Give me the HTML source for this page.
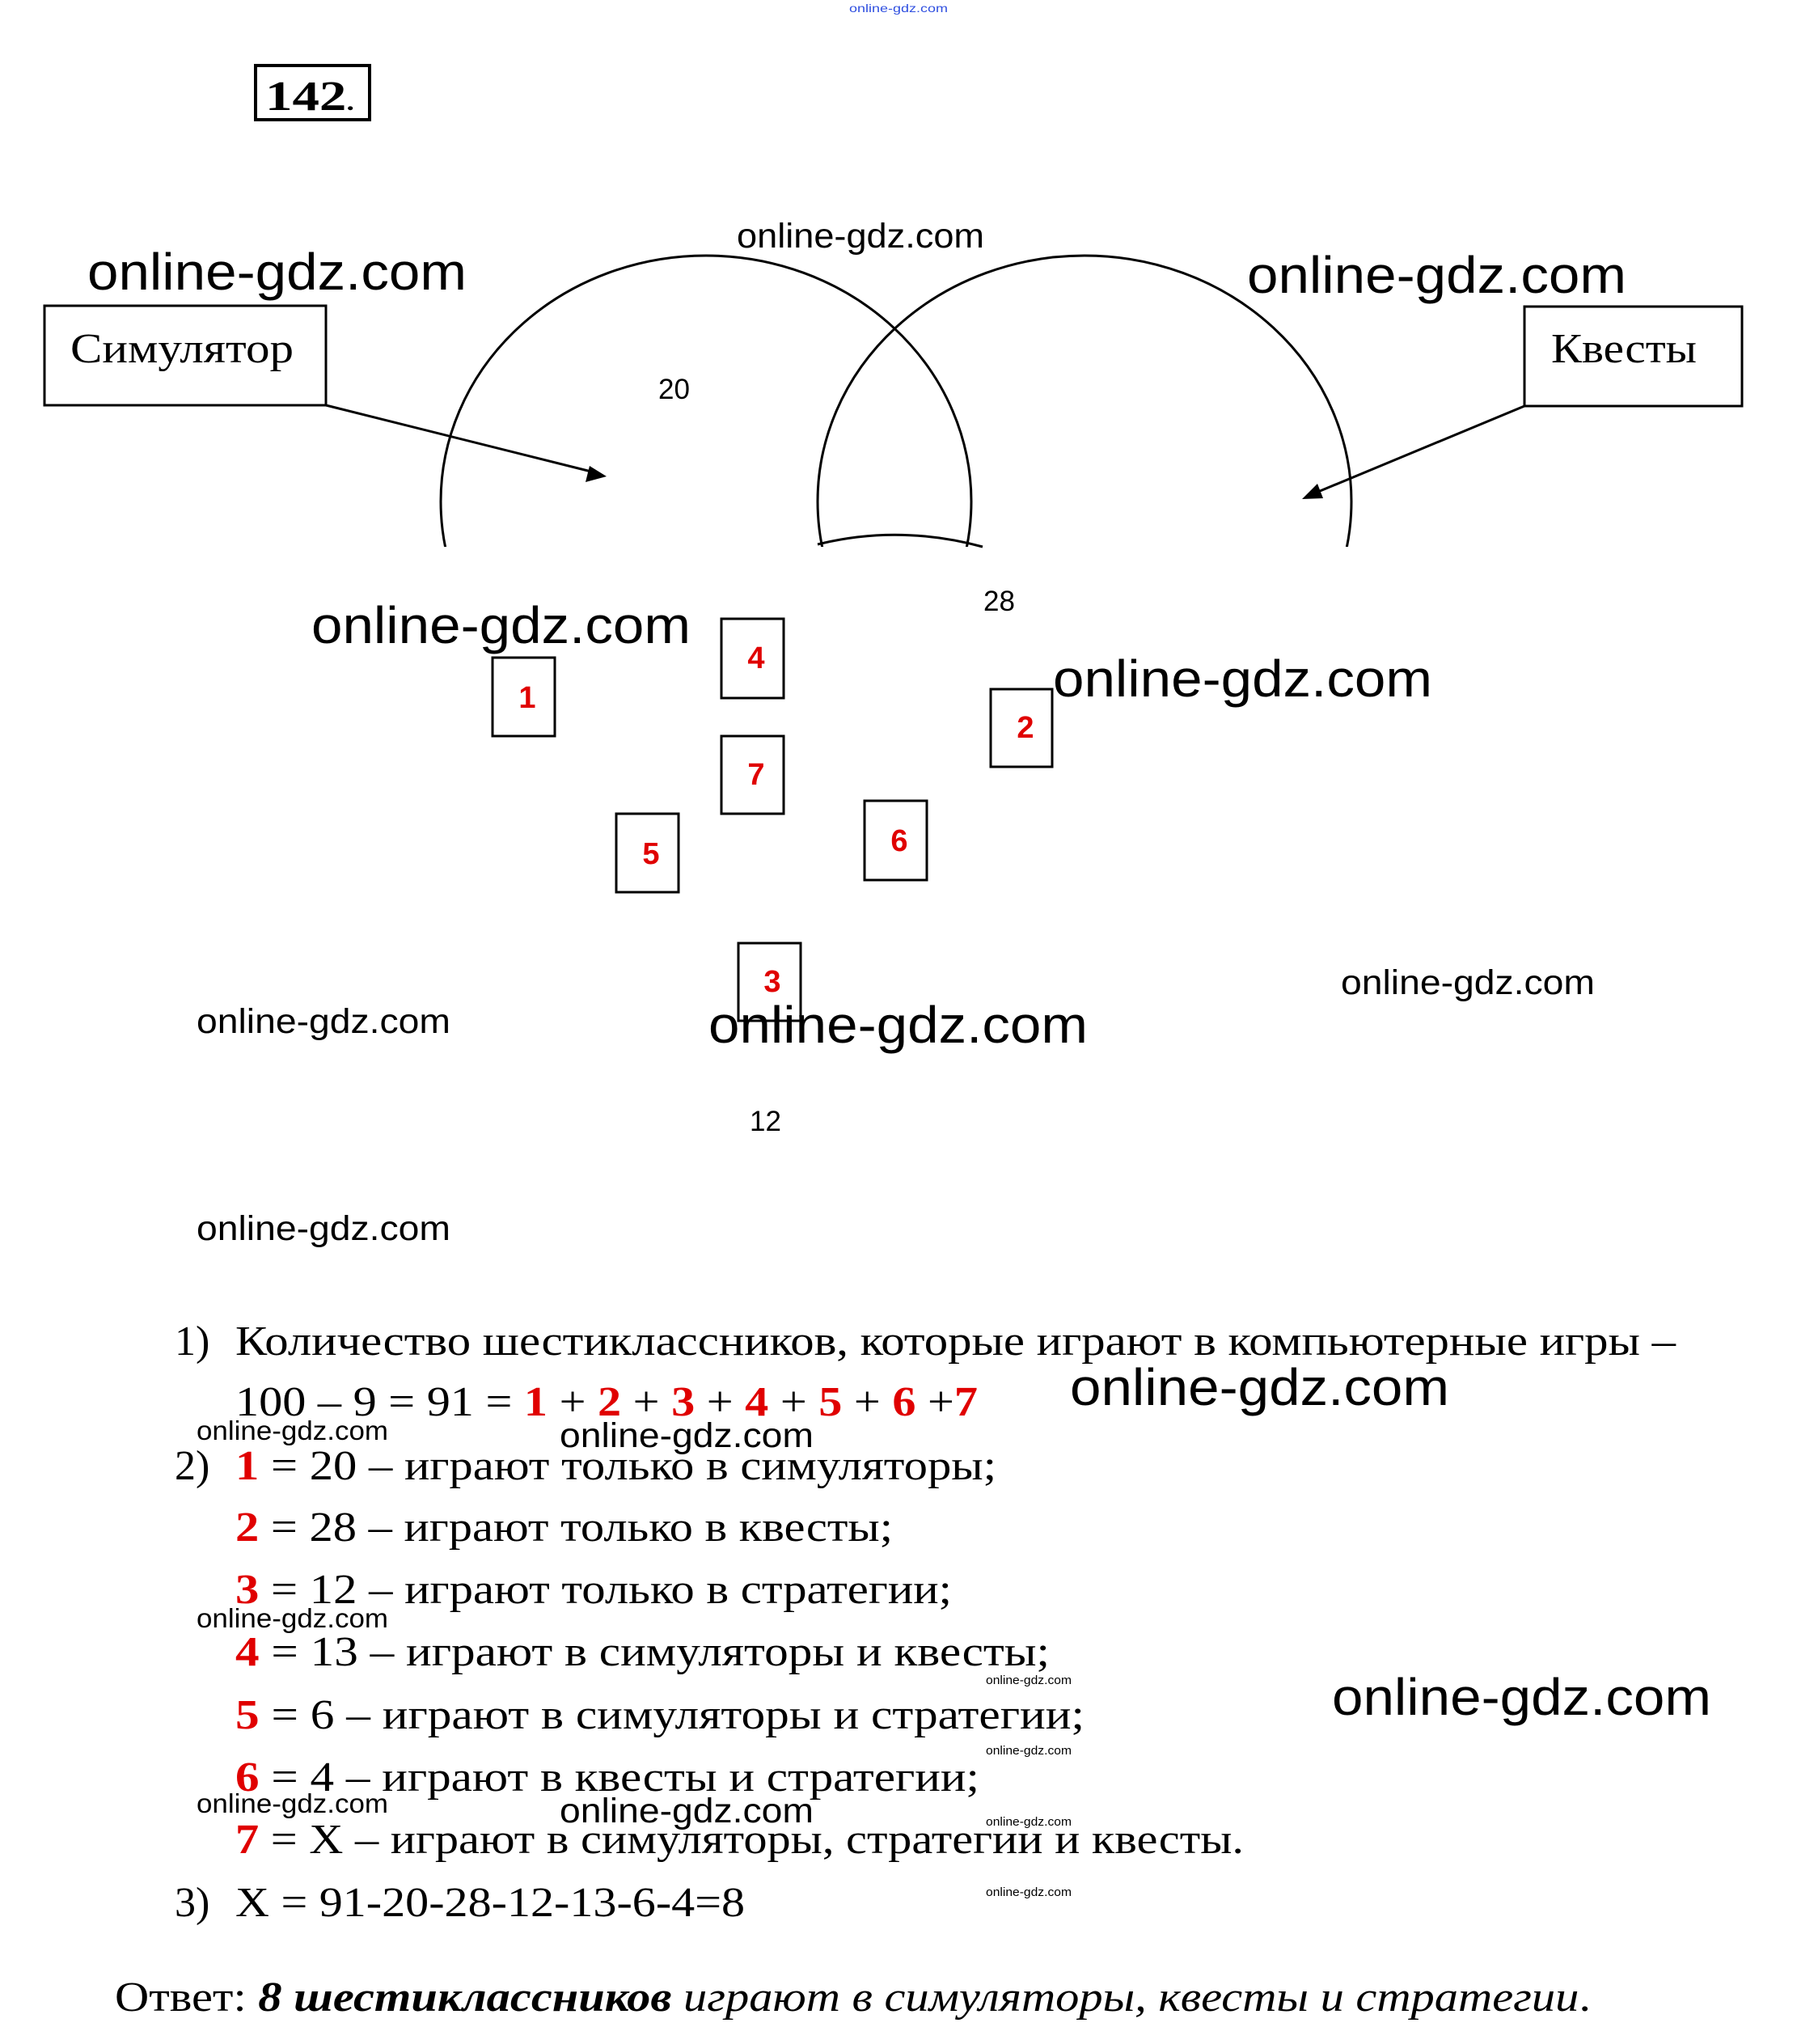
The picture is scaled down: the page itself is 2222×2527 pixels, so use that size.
<!DOCTYPE html>
<html><head><meta charset="utf-8"><style>
html,body{margin:0;padding:0;background:#fff;}
svg{display:block;}
.s{font-family:"Liberation Serif","Noto Serif CJK SC",serif;font-size:52px;fill:#000;}
.w{font-family:"Liberation Sans",sans-serif;fill:#000;}
.r{fill:#e00000;font-weight:bold;}
.n{font-family:"Liberation Sans",sans-serif;font-size:38px;font-weight:bold;fill:#e00000;}
</style></head><body>
<svg width="2222" height="2527" viewBox="0 0 2222 2527" xmlns="http://www.w3.org/2000/svg">
<defs><clipPath id="c"><rect x="0" y="0" width="2222" height="676"/></clipPath></defs>
<rect width="2222" height="2527" fill="#fff"/>
<text x="1050" y="15" class="w" font-size="14" style="fill:#3050e0" textLength="122" lengthAdjust="spacingAndGlyphs">online-gdz.com</text>
<!-- 142 -->
<rect x="316" y="81" width="141" height="67" fill="none" stroke="#000" stroke-width="4"/>
<text x="328" y="136" class="s" font-weight="bold" font-size="56" textLength="110" lengthAdjust="spacingAndGlyphs">142<tspan font-size="30">.</tspan></text>
<!-- arcs -->
<g fill="none" stroke="#000" stroke-width="3" clip-path="url(#c)">
<ellipse cx="873" cy="620" rx="328" ry="304"/>
<ellipse cx="1341" cy="620" rx="330" ry="304"/>
</g>
<path d="M 1011 673 Q 1111 648 1215 676" fill="none" stroke="#000" stroke-width="3"/>
<!-- boxes -->
<rect x="55" y="378" width="348" height="123" fill="none" stroke="#000" stroke-width="3"/>
<text x="87" y="448" class="s" font-size="56" textLength="276" lengthAdjust="spacingAndGlyphs">Симулятор</text>
<rect x="1885" y="379" width="269" height="123" fill="none" stroke="#000" stroke-width="3"/>
<text x="1918" y="448" class="s" font-size="56" textLength="180" lengthAdjust="spacingAndGlyphs">Квесты</text>
<!-- arrows -->
<g stroke="#000" stroke-width="3">
<line x1="403" y1="501" x2="735" y2="584"/>
<line x1="1885" y1="502" x2="1625" y2="610"/>
</g>
<polygon points="750,589 724,596 729,576" fill="#000"/>
<polygon points="1610,617 1629,598 1636,616" fill="#000"/>
<!-- numbers -->
<g class="w" font-size="35">
<text x="814" y="493">20</text>
<text x="1216" y="755">28</text>
<text x="927" y="1398">12</text>
</g>
<!-- small boxes -->
<g fill="none" stroke="#000" stroke-width="3">
<rect x="609" y="813" width="77" height="97"/>
<rect x="892" y="765" width="77" height="98"/>
<rect x="1225" y="852" width="76" height="96"/>
<rect x="892" y="910" width="77" height="96"/>
<rect x="762" y="1006" width="77" height="97"/>
<rect x="1069" y="990" width="77" height="98"/>
<rect x="913" y="1166" width="77" height="96"/>
</g>
<g class="n" text-anchor="middle">
<text x="652" y="875">1</text>
<text x="935" y="826">4</text>
<text x="1268" y="912">2</text>
<text x="935" y="970">7</text>
<text x="805" y="1068">5</text>
<text x="1112" y="1052">6</text>
<text x="955" y="1226">3</text>
</g>
<!-- watermarks -->
<g class="w">
<text x="108" y="358" font-size="64" textLength="469" lengthAdjust="spacingAndGlyphs">online-gdz.com</text>
<text x="911" y="306" font-size="43" textLength="306" lengthAdjust="spacingAndGlyphs">online-gdz.com</text>
<text x="1542" y="362" font-size="64" textLength="469" lengthAdjust="spacingAndGlyphs">online-gdz.com</text>
<text x="385" y="795" font-size="64" textLength="469" lengthAdjust="spacingAndGlyphs">online-gdz.com</text>
<text x="1302" y="861" font-size="64" textLength="469" lengthAdjust="spacingAndGlyphs">online-gdz.com</text>
<text x="243" y="1277" font-size="43" textLength="314" lengthAdjust="spacingAndGlyphs">online-gdz.com</text>
<text x="1658" y="1229" font-size="43" textLength="314" lengthAdjust="spacingAndGlyphs">online-gdz.com</text>
<text x="876" y="1289" font-size="64" textLength="469" lengthAdjust="spacingAndGlyphs">online-gdz.com</text>
<text x="243" y="1533" font-size="43" textLength="314" lengthAdjust="spacingAndGlyphs">online-gdz.com</text>
<text x="1323" y="1737" font-size="64" textLength="469" lengthAdjust="spacingAndGlyphs">online-gdz.com</text>
<text x="243" y="1780" font-size="33" textLength="237" lengthAdjust="spacingAndGlyphs">online-gdz.com</text>
<text x="692" y="1789" font-size="43" textLength="314" lengthAdjust="spacingAndGlyphs">online-gdz.com</text>
<text x="243" y="2012" font-size="33" textLength="237" lengthAdjust="spacingAndGlyphs">online-gdz.com</text>
<text x="1647" y="2120" font-size="64" textLength="469" lengthAdjust="spacingAndGlyphs">online-gdz.com</text>
<text x="243" y="2241" font-size="33" textLength="237" lengthAdjust="spacingAndGlyphs">online-gdz.com</text>
<text x="692" y="2253" font-size="43" textLength="314" lengthAdjust="spacingAndGlyphs">online-gdz.com</text>
<text x="1219" y="2082" font-size="15" textLength="106" lengthAdjust="spacingAndGlyphs">online-gdz.com</text>
<text x="1219" y="2169" font-size="15" textLength="106" lengthAdjust="spacingAndGlyphs">online-gdz.com</text>
<text x="1219" y="2257" font-size="15" textLength="106" lengthAdjust="spacingAndGlyphs">online-gdz.com</text>
<text x="1219" y="2344" font-size="15" textLength="106" lengthAdjust="spacingAndGlyphs">online-gdz.com</text>
</g>
<!-- solution text -->
<g class="s">
<text x="216" y="1675">1)</text>
<text x="291" y="1675" textLength="1781" lengthAdjust="spacingAndGlyphs">Количество шестиклассников, которые играют в компьютерные игры –</text>
<text x="291" y="1750" textLength="918" lengthAdjust="spacingAndGlyphs">100 – 9 = 91 = <tspan class="r">1</tspan> + <tspan class="r">2</tspan> + <tspan class="r">3</tspan> + <tspan class="r">4</tspan> + <tspan class="r">5</tspan> + <tspan class="r">6</tspan> +<tspan class="r">7</tspan></text>
<text x="216" y="1829">2)</text>
<text x="291" y="1829" textLength="941" lengthAdjust="spacingAndGlyphs"><tspan class="r">1</tspan> = 20 – играют только в симуляторы;</text>
<text x="291" y="1905" textLength="813" lengthAdjust="spacingAndGlyphs"><tspan class="r">2</tspan> = 28 – играют только в квесты;</text>
<text x="291" y="1982" textLength="886" lengthAdjust="spacingAndGlyphs"><tspan class="r">3</tspan> = 12 – играют только в стратегии;</text>
<text x="291" y="2059" textLength="1007" lengthAdjust="spacingAndGlyphs"><tspan class="r">4</tspan>  = 13 – играют в симуляторы и квесты;</text>
<text x="291" y="2137" textLength="1050" lengthAdjust="spacingAndGlyphs"><tspan class="r">5</tspan>  = 6 – играют в симуляторы и стратегии;</text>
<text x="291" y="2214" textLength="920" lengthAdjust="spacingAndGlyphs"><tspan class="r">6</tspan>  = 4 – играют в квесты и стратегии;</text>
<text x="291" y="2291" textLength="1247" lengthAdjust="spacingAndGlyphs"><tspan class="r">7</tspan> = X – играют в симуляторы, стратегии и квесты.</text>
<text x="216" y="2369">3)</text>
<text x="291" y="2369" textLength="630" lengthAdjust="spacingAndGlyphs">X = 91-20-28-12-13-6-4=8</text>
<text x="142" y="2486" textLength="1825" lengthAdjust="spacingAndGlyphs">Ответ: <tspan font-weight="bold" font-style="italic">8 шестиклассников</tspan> <tspan font-style="italic">играют в симуляторы, квесты и стратегии</tspan>.</text>
</g>
</svg>
</body></html>
